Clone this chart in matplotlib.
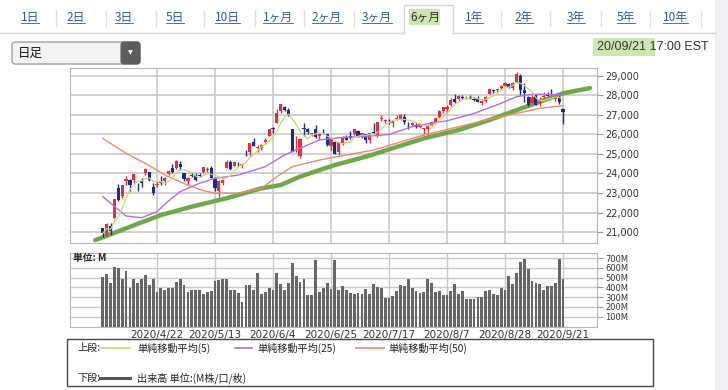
import numpy as np
import pandas as pd
import matplotlib.pyplot as plt
from matplotlib.patches import Rectangle, FancyBboxPatch

JP = ['Noto Sans CJK JP', 'DejaVu Sans']
NUM = ['DejaVu Sans', 'Noto Sans CJK JP']

# trading days shown (2020/4/1 .. 2020/9/21)
days_apr = [1, 2, 3, 6, 7, 8, 9, 13, 14, 15, 16, 17, 20, 21, 22, 23, 24, 27, 28, 29, 30]
days_may = [1, 4, 5, 6, 7, 8, 11, 12, 13, 14, 15, 18, 19, 20, 21, 22, 26, 27, 28, 29]
days_jun = [1, 2, 3, 4, 5, 8, 9, 10, 11, 12, 15, 16, 17, 18, 19, 22, 23, 24, 25, 26, 29, 30]
days_jul = [1, 2, 6, 7, 8, 9, 10, 13, 14, 15, 16, 17, 20, 21, 22, 23, 24, 27, 28, 29, 30, 31]
days_aug = [3, 4, 5, 6, 7, 10, 11, 12, 13, 14, 17, 18, 19, 20, 21, 24, 25, 26, 27, 28, 31]
days_sep = [1, 2, 3, 4, 8, 9, 10, 11, 14, 15, 16, 17, 18, 21]

opens = [21227, 20820, 21285, 21693, 23250, 22870, 23626, 23686, 23650, 23522,
         23640, 24000, 24080, 23290, 23420, 23530, 23600, 23950, 24300, 24300,
         24500, 24000, 23600, 23900, 23900, 23900, 24100, 24200, 24300, 23700,
         23100, 23500, 24300, 24600, 24400, 24500, 24450, 25000, 25100, 25600,
         25300, 25300, 25600, 25900, 26300, 26600, 27200, 27400, 27250, 26300,
         25600, 24900, 26300, 26300, 26000, 26300, 25900, 26200, 26000, 25400,
         25600, 25100, 25500, 25800, 25900, 26000, 26200, 25900, 26000, 25700,
         26100, 25900, 26800, 26700, 26700, 26600, 26800, 26800, 26900, 26500,
         26500, 26500, 26400, 26300, 26300, 26500, 26600, 26900, 27200, 27300,
         27500, 27800, 27800, 27900, 27900, 27900, 27800, 27800, 27600, 27700,
         28100, 28300, 28300, 28400, 28500, 28600, 28400, 28700, 29000, 28300,
         27900, 27600, 28000, 27600, 27900, 28000, 28100, 27800, 27900, 27300]
highs = [21227, 21446, 21447, 22680, 23450, 23434, 23849, 23700, 23972, 23522,
         23747, 24264, 24080, 23500, 23600, 23850, 23800, 24200, 24500, 24700,
         24650, 24000, 23800, 24100, 24000, 24000, 24350, 24350, 24400, 23800,
         23650, 23700, 24700, 24700, 24600, 24600, 24500, 25200, 25550, 25800,
         25450, 25500, 25800, 26300, 26400, 27300, 27580, 27450, 27350, 26300,
         25900, 25800, 26600, 26350, 26100, 26500, 26050, 26300, 26000, 25750,
         25650, 25600, 25900, 25950, 26200, 26300, 26250, 26100, 26050, 26100,
         26600, 26650, 27000, 26800, 26800, 26750, 27000, 27050, 27050, 26650,
         26650, 26600, 26600, 26350, 26450, 26700, 26850, 27250, 27400, 27500,
         27850, 28100, 28000, 28000, 27950, 28000, 27900, 27950, 27750, 27950,
         28350, 28350, 28350, 28550, 28700, 28650, 28700, 29200, 29100, 28650,
         27950, 28000, 28100, 27900, 28200, 28200, 28350, 28000, 28000, 27350]
lows = [20735, 20735, 20863, 21693, 22604, 22750, 23390, 23100, 23500, 23100,
        23300, 23900, 23600, 22900, 23300, 23400, 23400, 23900, 24050, 24250,
        24200, 23600, 23400, 23800, 23600, 23800, 24050, 24100, 23750, 23100,
        22800, 23400, 24300, 24200, 24400, 24400, 24300, 24900, 24900, 25400,
        25100, 25200, 25500, 25900, 26100, 26600, 27100, 27200, 26950, 25100,
        25100, 24800, 25900, 26050, 25900, 25800, 25700, 26000, 25400, 25200,
        25000, 24950, 25450, 25700, 25750, 25950, 25850, 25800, 25550, 25550,
        26050, 25850, 26700, 26600, 26550, 26400, 26750, 26750, 26550, 26300,
        26450, 26350, 26350, 26000, 26000, 26450, 26550, 26850, 27100, 27100,
        27450, 27600, 27700, 27800, 27800, 27800, 27700, 27650, 27500, 27650,
        28100, 28150, 28200, 28300, 28500, 28400, 28300, 28650, 28000, 27650,
        27450, 27600, 27500, 27450, 27850, 27950, 28000, 27700, 27550, 26550]
closes = [20943, 21413, 21052, 22680, 22654, 23434, 23719, 23390, 23950, 23504,
          23537, 24242, 23650, 23019, 23475, 23515, 23775, 24134, 24102, 24634,
          24346, 23724, 23750, 23883, 23665, 23876, 24331, 24221, 23765, 23248,
          23625, 23685, 24597, 24207, 24576, 24474, 24465, 24995, 25548, 25400,
          25383, 25475, 25742, 26270, 26282, 27111, 27572, 27272, 26990, 25128,
          25606, 25763, 26290, 26120, 26080, 25871, 26025, 26156, 25445, 25746,
          25016, 25596, 25813, 25735, 25827, 26287, 25890, 26067, 25706, 26075,
          26086, 26643, 26870, 26734, 26672, 26681, 26840, 27005, 26652, 26470,
          26585, 26380, 26540, 26314, 26428, 26664, 26828, 27202, 27387, 27433,
          27791, 27687, 27977, 27897, 27931, 27845, 27778, 27692, 27740, 27930,
          28308, 28249, 28332, 28492, 28654, 28430, 28646, 29100, 28292, 28133,
          27501, 27940, 27535, 27666, 27993, 27996, 28032, 27902, 27657, 27148]
volume = [509, 536, 450, 612, 595, 481, 564, 395, 491, 440,
          481, 529, 423, 491, 354, 395, 371, 395, 395, 457,
          491, 423, 354, 371, 371, 371, 337, 354, 364, 467,
          474, 491, 481, 371, 371, 344, 251, 423, 423, 371,
          543, 337, 354, 395, 371, 543, 433, 378, 450, 653,
          515, 457, 491, 326, 326, 680, 354, 395, 450, 388,
          680, 378, 412, 371, 347, 337, 347, 337, 381, 337,
          433, 405, 395, 296, 296, 309, 364, 423, 412, 491,
          399, 364, 344, 354, 491, 440, 354, 364, 326, 326,
          364, 430, 337, 364, 285, 285, 285, 302, 302, 364,
          378, 337, 326, 395, 378, 515, 430, 543, 656, 691,
          584, 467, 450, 430, 378, 416, 412, 440, 691, 491]

# moving averages (trading-day index, value)
ma25_day = [0, 4, 6, 10, 14, 17, 20, 25, 29, 35, 42, 47, 52, 56, 62, 69, 74,
            80, 85, 89, 96, 103, 107, 111, 115, 119]
ma25_val = [22810, 22150, 21820, 21730, 22040, 22600, 23070, 23500, 23750, 23920,
            24350, 24950, 25380, 25720, 25850, 25920, 26000, 26400, 26580, 26700,
            27080, 27600, 27940, 28060, 28060, 28020]
ma50_day = [0, 6, 11, 16, 22, 26, 29, 35, 41, 45, 49, 56, 63, 70, 75, 83, 92,
            100, 107, 113, 119]
ma50_val = [25800, 25030, 24520, 23930, 23400, 23120, 22990, 22990, 23240, 23840,
            24350, 24690, 24950, 25200, 25500, 25975, 26400, 26780, 27085, 27340,
            27480]
trend_day = [-2, 6, 15, 23, 32, 41, 46, 51, 60, 68, 75, 83, 92, 100, 107, 113,
             119, 126]
trend_val = [20580, 21190, 21870, 22300, 22730, 23240, 23410, 23840, 24435, 24860,
             25300, 25800, 26230, 26745, 27250, 27680, 28110, 28380]

tick_dates = ['2020/4/22', '2020/5/13', '2020/6/4', '2020/6/25', '2020/7/17',
              '2020/8/7', '2020/8/28', '2020/9/21']
tabs = ['1日', '2日', '3日', '5日', '10日', '1ヶ月', '2ヶ月', '3ヶ月', '6ヶ月',
        '1年', '2年', '3年', '5年', '10年']
selected_tab = '6ヶ月'

dates = ([f'2020/4/{d}' for d in days_apr] + [f'2020/5/{d}' for d in days_may] +
         [f'2020/6/{d}' for d in days_jun] + [f'2020/7/{d}' for d in days_jul] +
         [f'2020/8/{d}' for d in days_aug] + [f'2020/9/{d}' for d in days_sep])
df = pd.DataFrame({'open': opens, 'high': highs, 'low': lows,
                   'close': closes, 'volume': volume}, index=dates)
x = np.arange(len(df))
tick_pos = [dates.index(d) for d in tick_dates]
ma5 = df['close'].rolling(5, min_periods=1).mean()

W, H = 728, 390
fig = plt.figure(figsize=(W / 100, H / 100), dpi=100)


def frac(l, t, r, b):
    return [l / W, 1 - b / H, (r - l) / W, (b - t) / H]


RED, BLUE = '#e2313c', '#1b2b88'
GRID = '#c9c9c9'
XLIM = (-8.5, 127.8)

# ---- price panel
ax = fig.add_axes(frac(70, 68, 597, 243))
up = df['close'] >= df['open']
colors = np.where(up, RED, BLUE)
ax.vlines(x, df['low'], df['high'], colors=colors, lw=1.0, zorder=3)
body_lo = np.minimum(df['open'], df['close'])
body_h = np.maximum((df['close'] - df['open']).abs(), 30)
ax.bar(x, body_h, bottom=body_lo, width=0.82, color=colors, zorder=4)
ax.plot(trend_day, trend_val, color='#6fa84a', lw=3.2, solid_capstyle='round', zorder=2)
ax.plot(ma50_day, ma50_val, color='#f0896e', lw=1.0, zorder=5)
ax.plot(ma25_day, ma25_val, color='#b06de8', lw=1.0, zorder=5)
ax.plot(x, ma5, color='#cbd86a', lw=0.9, zorder=5)
ax.set_xlim(*XLIM)
ax.set_ylim(20436, 29410)
ax.set_yticks(range(21000, 29001, 1000))
ax.set_yticklabels([f'{v:,}' for v in range(21000, 29001, 1000)], family=NUM)
ax.set_xticks(tick_pos)
ax.set_xticklabels([])
ax.grid(color=GRID, lw=1.2, zorder=0)
ax.set_axisbelow(True)
ax.tick_params(axis='y', left=False, right=True, labelleft=False, labelright=True,
               length=4, color='#999999', labelsize=7, labelcolor='#333333', pad=2)
ax.tick_params(axis='x', length=0)
for s in ax.spines.values():
    s.set_color('#b5b5b5')

# ---- volume panel
vax = fig.add_axes(frac(70, 253, 597, 327))
vax.bar(x, df['volume'], width=0.72, color='#666666', zorder=3)
vax.set_xlim(*XLIM)
vax.set_ylim(-5, 752)
vax.set_yticks(range(100, 701, 100))
vax.set_yticklabels([f'{v}M' for v in range(100, 701, 100)], family=NUM)
vax.set_xticks(tick_pos)
vax.set_xticklabels(tick_dates, family=NUM)
vax.grid(color=GRID, lw=1.0, zorder=0)
vax.set_axisbelow(True)
vax.tick_params(axis='y', left=False, right=True, labelleft=False, labelright=True,
                length=4, color='#999999', labelsize=6, labelcolor='#333333', pad=2)
vax.tick_params(axis='x', length=0, labelsize=7.5, labelcolor='#333333', pad=2)
for s in vax.spines.values():
    s.set_color('#b5b5b5')

# ---- page decoration, pixel coordinates
top = fig.add_axes([0, 0, 1, 1], zorder=10)
top.set_xlim(0, W)
top.set_ylim(H, 0)
top.axis('off')
top.patch.set_alpha(0)

top.add_patch(Rectangle((715, 0), 13, H, color='#eef0f6', lw=0))
top.plot([0, 404], [33, 33], color='#d5d5d5', lw=1)
top.plot([453, 715], [33, 33], color='#d5d5d5', lw=1)
top.plot([404, 404, 453, 453], [33, 5, 5, 33], color='#d5d5d5', lw=1)

tab_x = [30, 76, 124, 175, 227, 278, 327, 377, 425, 474, 524, 576, 626, 675]
sep_x = [56, 106, 156, 204, 255, 304, 354, 501, 550, 601, 650, 701]
for sx in sep_x:
    top.plot([sx, sx], [11, 26], color='#dddddd', lw=1)
tab_texts = []
for tx, label in zip(tab_x, tabs):
    if label == selected_tab:
        top.add_patch(Rectangle((409, 9), 31, 16, color='#cde6b4', lw=0))
        top.text(tx, 17.5, label, ha='center', va='center', fontsize=8.5,
                 family=JP, color='#2d2d2d')
    else:
        t = top.text(tx, 17.5, label, ha='center', va='center', fontsize=8.5,
                     family=JP, color='#2a5ba8')
        tab_texts.append(t)

# dropdown
top.add_patch(FancyBboxPatch((12, 42), 128, 22, boxstyle='round,pad=0,rounding_size=3',
                             fc='#f3f3f3', ec='#8a8a8a', lw=0.8))
top.add_patch(FancyBboxPatch((121, 42), 19, 22, boxstyle='round,pad=0,rounding_size=3',
                             fc='#5d5d5d', ec='#5d5d5d', lw=0.8))
top.text(130.5, 53, '▼', ha='center', va='center', fontsize=4.5, color='white',
         family=NUM)
top.text(18, 53.5, '日足', ha='left', va='center', fontsize=9, family=JP, color='#111111')

# timestamp
top.add_patch(Rectangle((593, 38), 62, 18, color='#cde6b4', lw=0))
top.text(709, 47, '20/09/21 17:00 EST', ha='right', va='center', fontsize=9,
         family=['Liberation Sans', 'DejaVu Sans'], color='#333333')

# volume unit label
top.text(73, 258.5, '単位: M', ha='left', va='center', fontsize=7, family=JP,
         color='#222222', fontweight='bold')

# legend box
top.add_patch(Rectangle((67, 339), 586, 47, fill=False, ec='#444444', lw=1))
top.text(77, 348, '上段:', ha='left', va='center', fontsize=7.3, family=JP, color='#222222')
top.plot([100, 130], [348, 348], color='#cbd86a', lw=1.2)
top.text(137, 348, '単純移動平均(5)', ha='left', va='center', fontsize=7.3, family=JP,
         color='#222222')
top.plot([235, 252], [348, 348], color='#b06de8', lw=1.2)
top.text(257, 348, '単純移動平均(25)', ha='left', va='center', fontsize=7.3, family=JP,
         color='#222222')
top.plot([356, 384], [348, 348], color='#f0896e', lw=1.2)
top.text(388, 348, '単純移動平均(50)', ha='left', va='center', fontsize=7.3, family=JP,
         color='#222222')
top.text(77, 378, '下段:', ha='left', va='center', fontsize=7.3, family=JP, color='#222222')
top.plot([100, 130], [378, 378], color='#555555', lw=2.2)
top.text(137, 378, '出来高 単位:(M株/口/枚)', ha='left', va='center', fontsize=7.3,
         family=JP, color='#222222')

# underline the tab links
fig.canvas.draw()
r = fig.canvas.get_renderer()
for t in tab_texts:
    bb = t.get_window_extent(r)
    yb = H - bb.y0
    top.plot([bb.x0, bb.x1], [yb - 1, yb - 1], color='#2a5ba8', lw=0.6)

fig.savefig('out.png', dpi=100)
